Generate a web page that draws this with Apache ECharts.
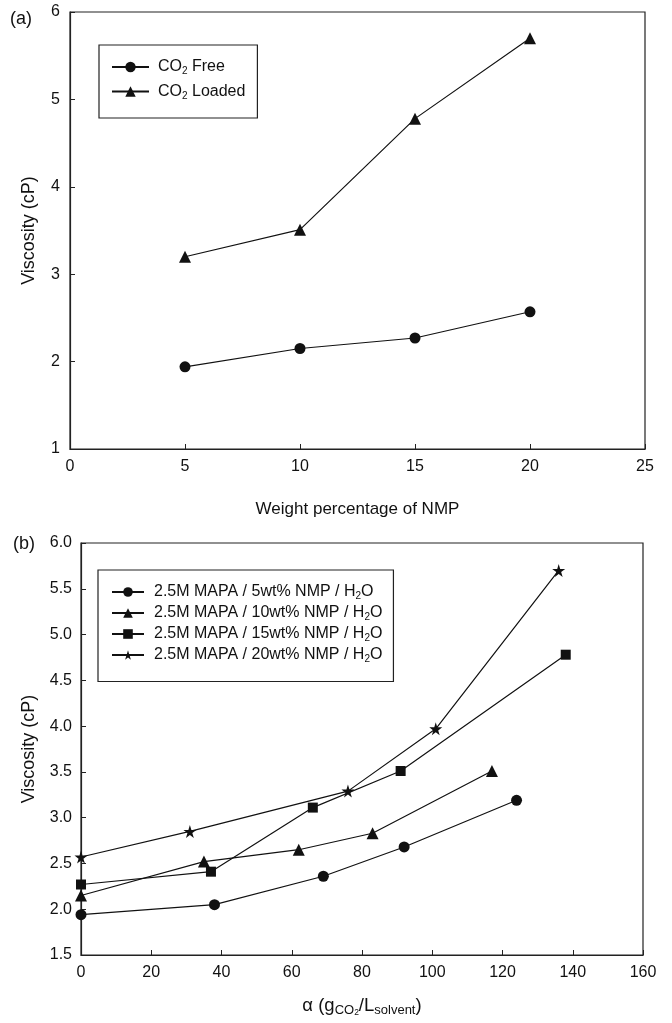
<!DOCTYPE html>
<html>
<head>
<meta charset="utf-8">
<script src="https://cdn.jsdelivr.net/npm/echarts@6/dist/echarts.min.js"></script>
<style>
  html, body { margin: 0; padding: 0; background: #fff; }
  #main { width: 672px; height: 1023px; }
</style>
</head>
<body>
<div id="main"></div>
<script type="text/javascript">
    // (a) viscosity vs NMP weight percentage
    var nmpWt = [5, 10, 15, 20];
    var viscFree = [1.94, 2.15, 2.27, 2.57];
    var viscLoaded = [3.20, 3.51, 4.78, 5.70];

    // (b) viscosity vs CO2 loading
    var alpha5 = [0, 38, 69, 92, 124];
    var visc5 = [1.94, 2.05, 2.36, 2.68, 3.19];
    var alpha10 = [0, 35, 62, 83, 117];
    var visc10 = [2.15, 2.52, 2.65, 2.83, 3.51];
    var alpha15 = [0, 37, 66, 91, 138];
    var visc15 = [2.27, 2.41, 3.11, 3.51, 4.78];
    var alpha20 = [0, 31, 76, 101, 136];
    var visc20 = [2.57, 2.85, 3.29, 3.97, 5.70];

    var namesA = ['CO2 Free', 'CO2 Loaded'];
    var namesB = ['2.5M MAPA / 5wt% NMP / H2O', '2.5M MAPA / 10wt% NMP / H2O',
                  '2.5M MAPA / 15wt% NMP / H2O', '2.5M MAPA / 20wt% NMP / H2O'];

    var FONT = '"Liberation Sans", Arial, sans-serif';
    var INK = '#111';
    var starPath = 'path://M50,0 L61,35 L98,35 L68,57 L79,91 L50,70 L21,91 L32,57 L2,35 L39,35 Z';

    function pairs(xs, ys) {
        return xs.map(function (x, i) { return [x, ys[i]]; });
    }
    // CO2 / H2O -> rich text with subscript 2
    function subName(name) {
        var s = name.replace(/CO2/g, '\u0001').replace(/H2O/g, '\u0002');
        var out = '';
        s.split(/([\u0001\u0002])/).forEach(function (p) {
            if (p === '\u0001') out += '{n|CO}{sub|2}';
            else if (p === '\u0002') out += '{n|H}{sub|2}{n|O}';
            else if (p.length) out += '{n|' + p + '}';
        });
        return out;
    }
    var legendRich = {
        n: { fontSize: 16, fontFamily: FONT, color: INK, lineHeight: 19 },
        sub: { fontSize: 10, fontFamily: FONT, color: INK, verticalAlign: 'bottom', padding: [6, 0, 0, 0], lineHeight: 19 }
    };

    function lineSeries(name, data, symbol, size, gi) {
        return {
            name: name,
            type: 'line',
            xAxisIndex: gi,
            yAxisIndex: gi,
            data: data,
            symbol: symbol,
            symbolSize: size,
            itemStyle: { color: INK },
            lineStyle: { color: INK, width: 1.2 },
            emphasis: { disabled: true },
            z: 3
        };
    }

    function axisCommon(min, max, interval, margin, fmt) {
        return {
            min: min,
            max: max,
            interval: interval,
            axisLine: { show: true, lineStyle: { color: '#222', width: 1.2 } },
            axisTick: { show: true, inside: true, length: 5, lineStyle: { color: '#222' } },
            axisLabel: { color: INK, fontSize: 16, fontFamily: FONT, margin: margin, formatter: fmt },
            splitLine: { show: false }
        };
    }

    var myChart = echarts.init(document.getElementById('main'));
    var option = {
        backgroundColor: '#fff',
        animation: false,
        textStyle: { fontFamily: FONT },
        title: [
            { text: '(a)', left: 10, top: 10, padding: 0, textStyle: { fontSize: 18, fontWeight: 'normal', color: INK, fontFamily: FONT } },
            { text: '(b)', left: 13, top: 535, padding: 0, textStyle: { fontSize: 18, fontWeight: 'normal', color: INK, fontFamily: FONT } }
        ],
        grid: [
            { left: 70, right: 27, top: 12, height: 437, show: true, borderColor: '#222', borderWidth: 1.2 },
            { left: 81, right: 29, top: 543, height: 412, show: true, borderColor: '#222', borderWidth: 1.2 }
        ],
        legend: [
            {
                left: 99, top: 45, orient: 'vertical',
                data: namesA,
                itemWidth: 37, itemHeight: 13, itemGap: 7,
                padding: [14, 12, 17, 12],
                borderColor: '#222', borderWidth: 1.2,
                formatter: subName,
                textStyle: { padding: [0, 0, 0, 4], rich: legendRich },
                selectedMode: false
            },
            {
                left: 98, top: 570, orient: 'vertical',
                data: namesB,
                itemWidth: 32, itemHeight: 12, itemGap: 3.5,
                padding: [14, 11, 17, 13],
                borderColor: '#222', borderWidth: 1.2,
                formatter: subName,
                textStyle: { padding: [0, 0, 0, 5], rich: legendRich },
                selectedMode: false
            }
        ],
        xAxis: [
            Object.assign(axisCommon(0, 25, 5, 10), {
                type: 'value', gridIndex: 0,
                name: 'Weight percentage of NMP', nameLocation: 'middle', nameGap: 52,
                nameTextStyle: { fontSize: 17, color: INK, fontFamily: FONT }
            }),
            Object.assign(axisCommon(0, 160, 20, 10), {
                type: 'value', gridIndex: 1,
                name: '{n|\u03b1 (g}{s|CO}{ss|2}{n|/L}{s|solvent}{n|)}', nameLocation: 'middle', nameGap: 39,
                nameTextStyle: {
                    color: INK, fontFamily: FONT,
                    rich: {
                        n: { fontSize: 18.5, color: INK, fontFamily: FONT, lineHeight: 23 },
                        s: { fontSize: 13, color: INK, fontFamily: FONT, verticalAlign: 'bottom', padding: [9, 0, 0, 0], lineHeight: 23 },
                        ss: { fontSize: 8.5, color: INK, fontFamily: FONT, verticalAlign: 'bottom', padding: [14, 0, 0, 0], lineHeight: 23 }
                    }
                }
            })
        ],
        yAxis: [
            Object.assign(axisCommon(1, 6, 1, 10), {
                type: 'value', gridIndex: 0,
                name: 'Viscosity (cP)', nameLocation: 'middle', nameGap: 32,
                nameTextStyle: { fontSize: 18, color: INK, fontFamily: FONT }
            }),
            Object.assign(axisCommon(1.5, 6, 0.5, 9, function (v) { return v.toFixed(1); }), {
                type: 'value', gridIndex: 1,
                name: 'Viscosity (cP)', nameLocation: 'middle', nameGap: 43,
                nameTextStyle: { fontSize: 18, color: INK, fontFamily: FONT }
            })
        ],
        series: [
            lineSeries(namesA[0], pairs(nmpWt, viscFree), 'circle', 11, 0),
            lineSeries(namesA[1], pairs(nmpWt, viscLoaded), 'triangle', 12, 0),
            lineSeries(namesB[0], pairs(alpha5, visc5), 'circle', 11, 1),
            lineSeries(namesB[1], pairs(alpha10, visc10), 'triangle', 12, 1),
            lineSeries(namesB[2], pairs(alpha15, visc15), 'rect', 10, 1),
            lineSeries(namesB[3], pairs(alpha20, visc20), starPath, 13, 1)
        ]
    };
    myChart.setOption(option);
</script>
</body>
</html>
